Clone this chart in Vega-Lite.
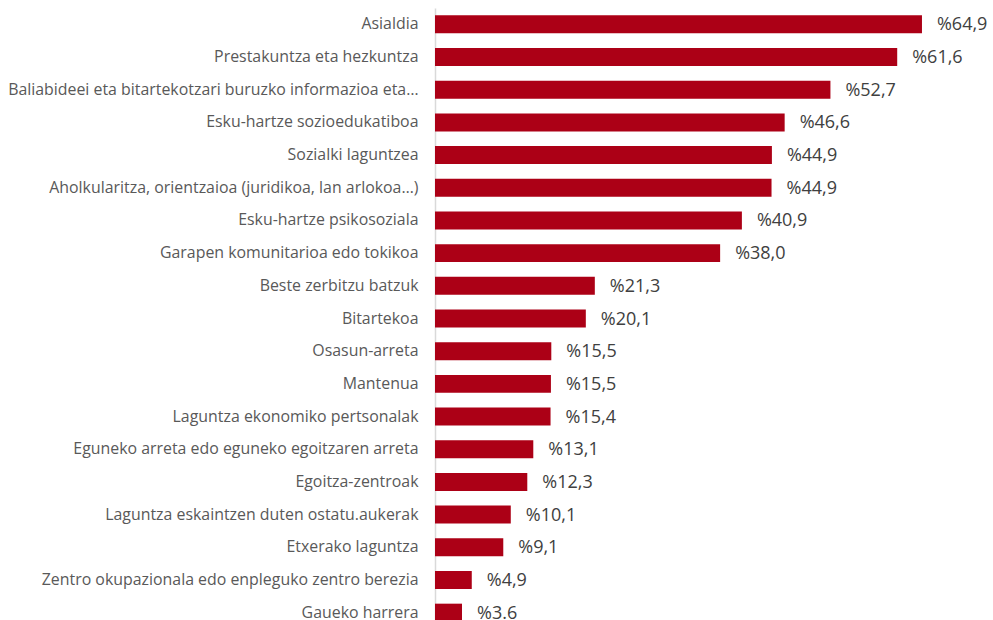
{
  "$schema": "https://vega.github.io/schema/vega-lite/v6.json",
  "autosize": {"type": "none"},
  "padding": {"left": 435, "top": 8, "right": 8, "bottom": 0},
  "width": 550,
  "height": 621,
  "background": "white",
  "data": {
    "values": [
      {"cat": "Asialdia", "v": 64.9, "lbl": "%64,9"},
      {"cat": "Prestakuntza eta hezkuntza", "v": 61.6, "lbl": "%61,6"},
      {"cat": "Baliabideei eta bitartekotzari buruzko informazioa eta…", "v": 52.7, "lbl": "%52,7"},
      {"cat": "Esku-hartze sozioedukatiboa", "v": 46.6, "lbl": "%46,6"},
      {"cat": "Sozialki laguntzea", "v": 44.9, "lbl": "%44,9"},
      {"cat": "Aholkularitza, orientzaioa (juridikoa, lan arlokoa…)", "v": 44.85, "lbl": "%44,9"},
      {"cat": "Esku-hartze psikosoziala", "v": 40.9, "lbl": "%40,9"},
      {"cat": "Garapen komunitarioa edo tokikoa", "v": 38.0, "lbl": "%38,0"},
      {"cat": "Beste zerbitzu batzuk", "v": 21.3, "lbl": "%21,3"},
      {"cat": "Bitartekoa", "v": 20.1, "lbl": "%20,1"},
      {"cat": "Osasun-arreta", "v": 15.5, "lbl": "%15,5"},
      {"cat": "Mantenua", "v": 15.45, "lbl": "%15,5"},
      {"cat": "Laguntza ekonomiko pertsonalak", "v": 15.4, "lbl": "%15,4"},
      {"cat": "Eguneko arreta edo eguneko egoitzaren arreta", "v": 13.1, "lbl": "%13,1"},
      {"cat": "Egoitza-zentroak", "v": 12.3, "lbl": "%12,3"},
      {"cat": "Laguntza eskaintzen duten ostatu.aukerak", "v": 10.1, "lbl": "%10,1"},
      {"cat": "Etxerako laguntza", "v": 9.1, "lbl": "%9,1"},
      {"cat": "Zentro okupazionala edo enpleguko zentro berezia", "v": 4.9, "lbl": "%4,9"},
      {"cat": "Gaueko harrera", "v": 3.6, "lbl": "%3.6"}
    ]
  },
  "encoding": {
    "y": {
      "field": "cat",
      "type": "nominal",
      "sort": null,
      "scale": {"paddingInner": 0.45, "paddingOuter": 0.225},
      "axis": {
        "title": null,
        "ticks": false,
        "domainColor": "#d9d9d9",
        "domainWidth": 1.5,
        "labelFont": "Open Sans",
        "labelFontSize": 15.9,
        "labelColor": "#595959",
        "labelPadding": 17,
        "labelLimit": 440
      }
    },
    "x": {
      "field": "v",
      "type": "quantitative",
      "scale": {"domain": [0, 73.3], "nice": false},
      "axis": null
    }
  },
  "layer": [
    {"mark": {"type": "bar", "color": "#AC0016"}},
    {
      "mark": {"type": "text", "align": "left", "dx": 15, "dy": 1, "font": "Open Sans", "fontSize": 18, "color": "#404040", "baseline": "middle"},
      "encoding": {"text": {"field": "lbl"}}
    }
  ],
  "config": {"view": {"stroke": null}}
}
